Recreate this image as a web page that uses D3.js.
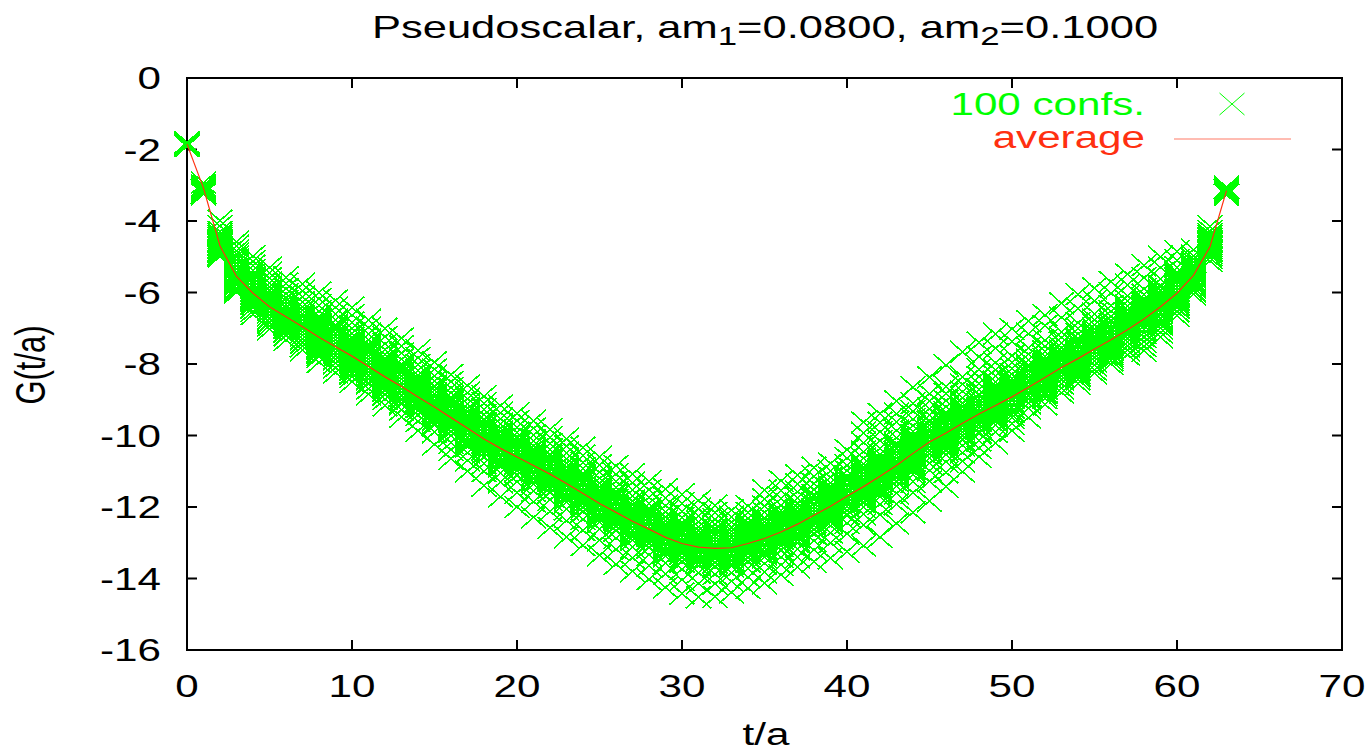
<!DOCTYPE html>
<html lang="en">
<head>
    <meta charset="UTF-8">
    <title>Pseudoscalar correlator</title>
    <script src="https://cdnjs.cloudflare.com/ajax/libs/d3/7.8.5/d3.min.js"></script>
    <style>
        body { margin: 0; background: #fff; }
        text { font-family: "Liberation Sans", Arial, sans-serif; }
    </style>
</head>
<body>
<svg width="1372" height="751"></svg>
<script>
    // tick labels
    const xTicks = [0, 10, 20, 30, 40, 50, 60, 70];
    const yTicks = [0, -2, -4, -6, -8, -10, -12, -14, -16];

    // average over configurations, one value per t/a = 0..63
    const average = [
        -1.85, -3.08, -4.70, -5.55, -6.02, -6.40, -6.68, -6.96, -7.25, -7.52,
        -7.78, -8.07, -8.36, -8.63, -8.92, -9.20, -9.50, -9.80, -10.10, -10.36,
        -10.60, -10.84, -11.08, -11.34, -11.62, -11.90, -12.15, -12.40, -12.62, -12.85,
        -13.02, -13.12, -13.16, -13.14, -13.02, -12.88, -12.70, -12.48, -12.23, -11.98,
        -11.70, -11.43, -11.14, -10.84, -10.50, -10.18, -9.93, -9.66, -9.40, -9.16,
        -8.92, -8.65, -8.38, -8.10, -7.85, -7.58, -7.32, -7.04, -6.74, -6.40,
        -6.02, -5.52, -4.72, -3.15
    ];

    // individual configurations (row index = t/a)
    const confs = [
        [-1.80,-1.82,-1.83,-1.84,-1.85,-1.86,-1.87,-1.88,-1.89,-1.91],
        [-2.93,-3.00,-3.03,-3.05,-3.07,-3.09,-3.11,-3.13,-3.15,-3.17,-3.19,-3.22,-3.25],
        [-3.99,-4.14,-4.30,-4.37,-4.42,-4.47,-4.52,-4.56,-4.60,-4.64,-4.68,-4.72,-4.76,-4.80,-4.84,-4.88,-4.92,-4.96,-4.99],
        [-4.58,-4.70,-4.83,-4.92,-5.00,-5.10,-5.18,-5.26,-5.34,-5.42,-5.50,-5.58,-5.66,-5.73,-5.80,-5.87,-5.94],
        [-4.98,-5.12,-5.25,-5.38,-5.48,-5.58,-5.67,-5.76,-5.85,-5.93,-6.01,-6.09,-6.17,-6.25,-6.33,-6.42,-6.52,-6.61],
        [-5.30,-5.45,-5.60,-5.73,-5.85,-5.95,-6.05,-6.14,-6.23,-6.31,-6.39,-6.47,-6.55,-6.63,-6.72,-6.82,-6.93,-7.03],
        [-5.58,-5.75,-5.90,-6.04,-6.15,-6.25,-6.34,-6.43,-6.51,-6.59,-6.67,-6.75,-6.83,-6.91,-7.00,-7.10,-7.20,-7.33],
        [-5.76,-5.95,-6.12,-6.27,-6.40,-6.50,-6.60,-6.69,-6.78,-6.87,-6.95,-7.03,-7.11,-7.20,-7.29,-7.39,-7.50,-7.61],
        [-6.00,-6.18,-6.36,-6.52,-6.66,-6.78,-6.88,-6.97,-7.06,-7.15,-7.24,-7.32,-7.40,-7.49,-7.58,-7.68,-7.80,-7.95],
        [-6.22,-6.42,-6.60,-6.77,-6.90,-7.02,-7.13,-7.23,-7.32,-7.41,-7.50,-7.59,-7.68,-7.77,-7.87,-7.98,-8.10,-8.24],
        [-6.42,-6.63,-6.84,-7.00,-7.14,-7.27,-7.38,-7.48,-7.58,-7.67,-7.76,-7.85,-7.94,-8.03,-8.13,-8.24,-8.36,-8.50],
        [-6.77,-6.98,-7.16,-7.32,-7.45,-7.57,-7.68,-7.78,-7.87,-7.96,-8.05,-8.14,-8.23,-8.33,-8.43,-8.55,-8.69,-8.85],
        [-7.01,-7.24,-7.44,-7.60,-7.74,-7.86,-7.97,-8.07,-8.16,-8.25,-8.34,-8.43,-8.52,-8.62,-8.72,-8.84,-8.98,-9.16],
        [-7.28,-7.50,-7.70,-7.87,-8.01,-8.13,-8.24,-8.34,-8.43,-8.52,-8.61,-8.70,-8.79,-8.89,-9.00,-9.12,-9.28,-9.48],
        [-7.62,-7.83,-8.02,-8.18,-8.31,-8.43,-8.54,-8.64,-8.73,-8.82,-8.91,-9.00,-9.09,-9.19,-9.30,-9.43,-9.60,-9.87],
        [-7.95,-8.15,-8.33,-8.48,-8.61,-8.73,-8.84,-8.93,-9.02,-9.11,-9.19,-9.28,-9.37,-9.47,-9.58,-9.71,-9.90,-10.25],
        [-8.30,-8.50,-8.67,-8.81,-8.93,-9.04,-9.14,-9.24,-9.33,-9.42,-9.50,-9.58,-9.67,-9.77,-9.88,-10.01,-10.20,-10.40,-10.65],
        [-8.60,-8.80,-8.97,-9.12,-9.24,-9.35,-9.45,-9.54,-9.63,-9.72,-9.80,-9.88,-9.97,-10.07,-10.18,-10.31,-10.48,-10.70,-11.00],
        [-8.90,-9.10,-9.27,-9.42,-9.54,-9.65,-9.75,-9.84,-9.93,-10.02,-10.10,-10.18,-10.27,-10.37,-10.48,-10.61,-10.78,-11.00,-11.40],
        [-9.16,-9.36,-9.53,-9.68,-9.80,-9.91,-10.01,-10.10,-10.19,-10.28,-10.36,-10.44,-10.53,-10.63,-10.74,-10.87,-11.05,-11.30,-11.71],
        [-9.38,-9.59,-9.77,-9.92,-10.04,-10.15,-10.25,-10.34,-10.43,-10.52,-10.60,-10.68,-10.77,-10.87,-10.98,-11.12,-11.30,-11.60,-12.00],
        [-9.59,-9.80,-9.99,-10.15,-10.28,-10.39,-10.49,-10.58,-10.67,-10.76,-10.84,-10.92,-11.01,-11.11,-11.22,-11.36,-11.55,-11.85,-12.29],
        [-9.83,-10.05,-10.23,-10.39,-10.52,-10.63,-10.73,-10.82,-10.91,-11.00,-11.08,-11.16,-11.25,-11.35,-11.46,-11.60,-11.80,-12.12,-12.58],
        [-10.09,-10.30,-10.49,-10.65,-10.78,-10.89,-10.99,-11.08,-11.17,-11.26,-11.34,-11.42,-11.51,-11.61,-11.72,-11.86,-12.06,-12.38,-12.84],
        [-10.34,-10.56,-10.76,-10.92,-11.05,-11.17,-11.27,-11.36,-11.45,-11.54,-11.62,-11.70,-11.79,-11.89,-12.00,-12.14,-12.34,-12.65,-13.07],
        [-10.60,-10.83,-11.03,-11.20,-11.33,-11.45,-11.55,-11.64,-11.73,-11.82,-11.90,-11.98,-12.07,-12.17,-12.28,-12.42,-12.62,-12.93,-13.35],
        [-10.85,-11.08,-11.28,-11.45,-11.58,-11.70,-11.80,-11.89,-11.98,-12.07,-12.15,-12.23,-12.32,-12.42,-12.53,-12.67,-12.87,-13.18,-13.60],
        [-11.08,-11.32,-11.52,-11.69,-11.83,-11.95,-12.05,-12.14,-12.23,-12.32,-12.40,-12.48,-12.57,-12.67,-12.78,-12.92,-13.12,-13.42,-13.80],
        [-11.28,-11.52,-11.73,-11.90,-12.04,-12.16,-12.27,-12.36,-12.45,-12.54,-12.62,-12.70,-12.79,-12.89,-13.00,-13.14,-13.34,-13.64,-14.02],
        [-11.50,-11.75,-11.96,-12.13,-12.27,-12.39,-12.50,-12.59,-12.68,-12.77,-12.85,-12.93,-13.02,-13.12,-13.23,-13.37,-13.57,-13.87,-14.25],
        [-11.65,-11.90,-12.12,-12.30,-12.44,-12.56,-12.67,-12.76,-12.85,-12.94,-13.02,-13.10,-13.19,-13.29,-13.40,-13.54,-13.74,-14.04,-14.42],
        [-11.82,-12.05,-12.25,-12.41,-12.55,-12.67,-12.77,-12.86,-12.95,-13.04,-13.12,-13.20,-13.29,-13.39,-13.50,-13.64,-13.84,-14.14,-14.52],
        [-11.96,-12.16,-12.34,-12.48,-12.61,-12.72,-12.82,-12.91,-13.00,-13.08,-13.16,-13.24,-13.33,-13.43,-13.54,-13.68,-13.88,-14.15,-14.51],
        [-12.09,-12.28,-12.43,-12.56,-12.67,-12.77,-12.87,-12.96,-13.05,-13.14,-13.22,-13.31,-13.41,-13.52,-13.66,-13.84,-14.08,-14.39],
        [-11.97,-12.16,-12.31,-12.44,-12.55,-12.65,-12.75,-12.84,-12.93,-13.02,-13.10,-13.19,-13.29,-13.40,-13.54,-13.72,-13.96,-14.27],
        [-11.53,-11.78,-11.98,-12.15,-12.30,-12.42,-12.52,-12.61,-12.70,-12.79,-12.88,-12.96,-13.05,-13.15,-13.26,-13.40,-13.58,-13.82,-14.13],
        [-11.27,-11.54,-11.76,-11.95,-12.10,-12.23,-12.34,-12.43,-12.52,-12.61,-12.70,-12.78,-12.87,-12.97,-13.08,-13.22,-13.40,-13.62,-13.90],
        [-11.11,-11.36,-11.57,-11.75,-11.90,-12.02,-12.13,-12.22,-12.31,-12.40,-12.48,-12.56,-12.65,-12.75,-12.86,-13.00,-13.18,-13.40,-13.68],
        [-10.90,-11.14,-11.35,-11.52,-11.66,-11.78,-11.89,-11.98,-12.07,-12.16,-12.24,-12.32,-12.41,-12.51,-12.62,-12.76,-12.95,-13.20,-13.53],
        [-10.78,-10.99,-11.17,-11.32,-11.45,-11.56,-11.66,-11.75,-11.84,-11.92,-12.00,-12.08,-12.17,-12.27,-12.38,-12.52,-12.72,-13.00,-13.43],
        [-10.40,-10.63,-10.83,-10.99,-11.13,-11.25,-11.36,-11.46,-11.55,-11.63,-11.71,-11.79,-11.88,-11.98,-12.09,-12.24,-12.45,-12.75,-13.25],
        [-9.63,-9.93,-10.20,-10.45,-10.64,-10.80,-10.93,-11.04,-11.13,-11.22,-11.30,-11.38,-11.46,-11.54,-11.63,-11.73,-11.85,-12.00,-12.20,-12.50,-13.08],
        [-9.39,-9.64,-9.90,-10.15,-10.36,-10.52,-10.65,-10.76,-10.85,-10.94,-11.02,-11.10,-11.18,-11.26,-11.35,-11.45,-11.57,-11.72,-11.92,-12.22,-12.84],
        [-9.04,-9.39,-9.62,-9.86,-10.06,-10.22,-10.35,-10.46,-10.55,-10.64,-10.72,-10.80,-10.88,-10.96,-11.05,-11.15,-11.27,-11.42,-11.62,-11.92,-12.46],
        [-8.65,-9.10,-9.32,-9.54,-9.73,-9.89,-10.02,-10.13,-10.22,-10.31,-10.39,-10.47,-10.55,-10.63,-10.72,-10.82,-10.94,-11.09,-11.29,-11.60,-12.15],
        [-8.37,-8.83,-9.04,-9.25,-9.43,-9.58,-9.71,-9.82,-9.91,-10.00,-10.08,-10.16,-10.24,-10.32,-10.41,-10.51,-10.63,-10.78,-10.98,-11.28,-11.83],
        [-8.03,-8.63,-8.83,-9.03,-9.20,-9.35,-9.47,-9.58,-9.67,-9.76,-9.84,-9.92,-10.00,-10.08,-10.17,-10.27,-10.39,-10.54,-10.74,-11.03,-11.43],
        [-7.66,-8.36,-8.57,-8.77,-8.94,-9.09,-9.21,-9.32,-9.41,-9.50,-9.58,-9.66,-9.74,-9.82,-9.91,-10.01,-10.13,-10.28,-10.48,-10.72,-11.01],
        [-7.40,-7.80,-8.15,-8.36,-8.55,-8.71,-8.85,-8.97,-9.07,-9.16,-9.24,-9.32,-9.40,-9.48,-9.57,-9.67,-9.79,-9.94,-10.14,-10.35,-10.60],
        [-7.16,-7.56,-7.96,-8.16,-8.34,-8.50,-8.63,-8.74,-8.84,-8.93,-9.01,-9.09,-9.17,-9.25,-9.34,-9.44,-9.56,-9.71,-9.90,-10.21],
        [-7.02,-7.37,-7.77,-7.96,-8.13,-8.28,-8.41,-8.52,-8.62,-8.71,-8.79,-8.87,-8.95,-9.03,-9.12,-9.22,-9.34,-9.50,-9.67,-9.87],
        [-6.80,-7.15,-7.55,-7.73,-7.89,-8.03,-8.16,-8.27,-8.37,-8.46,-8.54,-8.62,-8.70,-8.78,-8.87,-8.97,-9.09,-9.24,-9.50],
        [-6.63,-6.93,-7.33,-7.50,-7.65,-7.79,-7.91,-8.01,-8.10,-8.19,-8.27,-8.35,-8.43,-8.51,-8.60,-8.70,-8.82,-8.96,-9.13],
        [-6.30,-6.70,-7.10,-7.26,-7.41,-7.54,-7.65,-7.75,-7.84,-7.92,-8.00,-8.08,-8.16,-8.24,-8.33,-8.43,-8.55,-8.68,-8.80],
        [-6.05,-6.45,-6.85,-7.01,-7.16,-7.29,-7.40,-7.50,-7.59,-7.67,-7.75,-7.83,-7.91,-7.99,-8.08,-8.18,-8.30,-8.43,-8.55],
        [-5.88,-6.23,-6.60,-6.76,-6.90,-7.03,-7.14,-7.24,-7.33,-7.41,-7.49,-7.57,-7.65,-7.73,-7.82,-7.92,-8.04,-8.16,-8.26],
        [-5.70,-6.02,-6.37,-6.52,-6.66,-6.78,-6.89,-6.99,-7.08,-7.16,-7.24,-7.32,-7.40,-7.48,-7.57,-7.67,-7.78,-7.90,-8.00],
        [-5.49,-5.79,-6.09,-6.24,-6.38,-6.50,-6.61,-6.71,-6.80,-6.88,-6.96,-7.04,-7.12,-7.20,-7.29,-7.39,-7.50,-7.62,-7.74],
        [-5.24,-5.59,-5.90,-6.06,-6.18,-6.28,-6.37,-6.46,-6.54,-6.62,-6.70,-6.78,-6.86,-6.94,-7.03,-7.13,-7.25,-7.38,-7.50,-7.63],
        [-5.00,-5.30,-5.62,-5.80,-5.96,-6.06,-6.15,-6.24,-6.32,-6.40,-6.48,-6.56,-6.64,-6.72,-6.81,-6.90,-7.00,-7.12,-7.25],
        [-4.85,-5.10,-5.30,-5.44,-5.53,-5.62,-5.70,-5.78,-5.86,-5.94,-6.02,-6.10,-6.18,-6.26,-6.34,-6.43,-6.53,-6.65],
        [-4.80,-4.98,-5.07,-5.15,-5.23,-5.30,-5.37,-5.44,-5.51,-5.58,-5.65,-5.72,-5.79,-5.86,-5.94,-6.05],
        [-4.15,-4.28,-4.37,-4.43,-4.49,-4.55,-4.60,-4.65,-4.70,-4.75,-4.80,-4.85,-4.90,-4.96,-5.03,-5.12],
        [-3.05,-3.08,-3.11,-3.13,-3.15,-3.17,-3.19,-3.21,-3.24,-3.27]
    ];

    // further configurations packed in the solid core near the average (row index = t/a)
    const confsCore = [
        [], [], [],
        [-4.99,-5.08,-5.18,-5.26,-5.35,-5.44,-5.52,-5.61,-5.70,-5.79,-5.89,-6.00],
        [-5.50,-5.59,-5.68,-5.77,-5.86,-5.95,-6.04,-6.13,-6.22,-6.31,-6.41,-6.52],
        [-5.84,-5.93,-6.03,-6.11,-6.20,-6.29,-6.37,-6.46,-6.55,-6.64,-6.74,-6.85],
        [-6.16,-6.25,-6.34,-6.43,-6.52,-6.61,-6.70,-6.79,-6.88,-6.97,-7.07,-7.18],
        [-6.40,-6.49,-6.59,-6.67,-6.76,-6.85,-6.93,-7.02,-7.11,-7.20,-7.30,-7.41],
        [-6.73,-6.82,-6.91,-7.00,-7.09,-7.18,-7.27,-7.36,-7.45,-7.54,-7.64,-7.75],
        [-6.96,-7.05,-7.15,-7.23,-7.32,-7.41,-7.49,-7.58,-7.67,-7.76,-7.86,-7.97],
        [-7.26,-7.35,-7.44,-7.53,-7.62,-7.71,-7.80,-7.89,-7.98,-8.07,-8.17,-8.28],
        [-7.51,-7.60,-7.70,-7.78,-7.87,-7.96,-8.04,-8.13,-8.22,-8.31,-8.41,-8.52],
        [-7.84,-7.93,-8.02,-8.11,-8.20,-8.29,-8.38,-8.47,-8.56,-8.65,-8.75,-8.86],
        [-8.07,-8.16,-8.26,-8.34,-8.43,-8.52,-8.60,-8.69,-8.78,-8.87,-8.97,-9.08],
        [-8.40,-8.49,-8.58,-8.67,-8.76,-8.85,-8.94,-9.03,-9.12,-9.21,-9.31,-9.42],
        [-8.64,-8.73,-8.83,-8.91,-9.00,-9.09,-9.17,-9.26,-9.35,-9.44,-9.54,-9.65],
        [-8.98,-9.07,-9.16,-9.25,-9.34,-9.43,-9.52,-9.61,-9.70,-9.79,-9.89,-10.00],
        [-9.24,-9.33,-9.43,-9.51,-9.60,-9.69,-9.77,-9.86,-9.95,-10.04,-10.14,-10.25],
        [-9.58,-9.67,-9.76,-9.85,-9.94,-10.03,-10.12,-10.21,-10.30,-10.39,-10.49,-10.60],
        [-9.80,-9.89,-9.99,-10.07,-10.16,-10.25,-10.33,-10.42,-10.51,-10.60,-10.70,-10.81],
        [-10.08,-10.17,-10.26,-10.35,-10.44,-10.53,-10.62,-10.71,-10.80,-10.89,-10.99,-11.10],
        [-10.28,-10.37,-10.47,-10.55,-10.64,-10.73,-10.81,-10.90,-10.99,-11.08,-11.18,-11.29],
        [-10.56,-10.65,-10.74,-10.83,-10.92,-11.01,-11.10,-11.19,-11.28,-11.37,-11.47,-11.58],
        [-10.78,-10.87,-10.97,-11.05,-11.14,-11.23,-11.31,-11.40,-11.49,-11.58,-11.68,-11.79],
        [-11.10,-11.19,-11.28,-11.37,-11.46,-11.55,-11.64,-11.73,-11.82,-11.91,-12.01,-12.12],
        [-11.34,-11.43,-11.53,-11.61,-11.70,-11.79,-11.87,-11.96,-12.05,-12.14,-12.24,-12.35],
        [-11.63,-11.72,-11.81,-11.90,-11.99,-12.08,-12.17,-12.26,-12.35,-12.44,-12.54,-12.65],
        [-11.84,-11.93,-12.03,-12.11,-12.20,-12.29,-12.37,-12.46,-12.55,-12.64,-12.74,-12.85],
        [-12.10,-12.19,-12.28,-12.37,-12.46,-12.55,-12.64,-12.73,-12.82,-12.91,-13.01,-13.12],
        [-12.29,-12.38,-12.48,-12.56,-12.65,-12.74,-12.82,-12.91,-13.00,-13.09,-13.19,-13.30],
        [-12.50,-12.59,-12.68,-12.77,-12.86,-12.95,-13.04,-13.13,-13.22,-13.31,-13.41,-13.52],
        [-12.56,-12.65,-12.75,-12.83,-12.92,-13.01,-13.09,-13.18,-13.27,-13.36,-13.46,-13.57],
        [-12.64,-12.73,-12.82,-12.91,-13.00,-13.09,-13.18,-13.27,-13.36,-13.45,-13.55,-13.66],
        [-12.58,-12.67,-12.77,-12.85,-12.94,-13.03,-13.11,-13.20,-13.29,-13.38,-13.48,-13.59],
        [-12.50,-12.59,-12.68,-12.77,-12.86,-12.95,-13.04,-13.13,-13.22,-13.31,-13.41,-13.52],
        [-12.32,-12.41,-12.51,-12.59,-12.68,-12.77,-12.85,-12.94,-13.03,-13.12,-13.22,-13.33],
        [-12.18,-12.27,-12.36,-12.45,-12.54,-12.63,-12.72,-12.81,-12.90,-12.99,-13.09,-13.20],
        [-11.92,-12.01,-12.11,-12.19,-12.28,-12.37,-12.45,-12.54,-12.63,-12.72,-12.82,-12.93],
        [-11.71,-11.80,-11.89,-11.98,-12.07,-12.16,-12.25,-12.34,-12.43,-12.52,-12.62,-12.73],
        [-11.42,-11.51,-11.61,-11.69,-11.78,-11.87,-11.95,-12.04,-12.13,-12.22,-12.32,-12.43],
        [-11.18,-11.27,-11.36,-11.45,-11.54,-11.63,-11.72,-11.81,-11.90,-11.99,-12.09,-12.20],
        [-10.87,-10.96,-11.06,-11.14,-11.23,-11.32,-11.40,-11.49,-11.58,-11.67,-11.77,-11.88],
        [-10.62,-10.71,-10.80,-10.89,-10.98,-11.07,-11.16,-11.25,-11.34,-11.43,-11.53,-11.64],
        [-10.28,-10.37,-10.47,-10.55,-10.64,-10.73,-10.81,-10.90,-10.99,-11.08,-11.18,-11.29],
        [-9.98,-10.07,-10.16,-10.25,-10.34,-10.43,-10.52,-10.61,-10.70,-10.79,-10.89,-11.00],
        [-9.62,-9.71,-9.81,-9.89,-9.98,-10.07,-10.15,-10.24,-10.33,-10.42,-10.52,-10.63],
        [-9.41,-9.50,-9.59,-9.68,-9.77,-9.86,-9.95,-10.04,-10.13,-10.22,-10.32,-10.43],
        [-9.10,-9.19,-9.29,-9.37,-9.46,-9.55,-9.63,-9.72,-9.81,-9.90,-10.00,-10.11],
        [-8.88,-8.97,-9.06,-9.15,-9.24,-9.33,-9.42,-9.51,-9.60,-9.69,-9.79,-9.90],
        [-8.60,-8.69,-8.79,-8.87,-8.96,-9.05,-9.13,-9.22,-9.31,-9.40,-9.50,-9.61],
        [-8.40,-8.49,-8.58,-8.67,-8.76,-8.85,-8.94,-9.03,-9.12,-9.21,-9.31,-9.42],
        [-8.09,-8.18,-8.28,-8.36,-8.45,-8.54,-8.62,-8.71,-8.80,-8.89,-8.99,-9.10],
        [-7.86,-7.95,-8.04,-8.13,-8.22,-8.31,-8.40,-8.49,-8.58,-8.67,-8.77,-8.88],
        [-7.54,-7.63,-7.73,-7.81,-7.90,-7.99,-8.07,-8.16,-8.25,-8.34,-8.44,-8.55],
        [-7.33,-7.42,-7.51,-7.60,-7.69,-7.78,-7.87,-7.96,-8.05,-8.14,-8.24,-8.35],
        [-7.02,-7.11,-7.21,-7.29,-7.38,-7.47,-7.55,-7.64,-7.73,-7.82,-7.92,-8.03],
        [-6.80,-6.89,-6.98,-7.07,-7.16,-7.25,-7.34,-7.43,-7.52,-7.61,-7.71,-7.82],
        [-6.48,-6.57,-6.67,-6.75,-6.84,-6.93,-7.01,-7.10,-7.19,-7.28,-7.38,-7.49],
        [-6.22,-6.31,-6.40,-6.49,-6.58,-6.67,-6.76,-6.85,-6.94,-7.03,-7.13,-7.24],
        [-5.84,-5.93,-6.03,-6.11,-6.20,-6.29,-6.37,-6.46,-6.55,-6.64,-6.74,-6.85],
        [-5.50,-5.59,-5.68,-5.77,-5.86,-5.95,-6.04,-6.13,-6.22,-6.31,-6.41,-6.52],
        [-5.06,-5.15,-5.24,-5.32,-5.41,-5.49,-5.58,-5.67,-5.76,-5.86,-5.97],
        [], []
    ];

    const GREEN = '#00ff00';
    const RED = '#ff3010';
    const FONT = 31;
    const STRETCH = 1.36;   // the original image is wider than its glyphs

    const svg = d3.select('svg');
    const plotLeft = 187, plotRight = 1342, plotTop = 78, plotBottom = 650;

    const x = d3.scaleLinear().domain([0, 70]).range([plotLeft, plotRight]);
    const y = d3.scaleLinear().domain([-16, 0]).range([plotBottom, plotTop]);

    // stretched text helper
    const label = (px, py, str, anchor, color, rot, size) => {
        return svg.append('text')
            .attr('transform', `translate(${px},${py}) scale(${STRETCH},1)` + (rot ? ` rotate(${rot})` : ''))
            .attr('text-anchor', anchor)
            .attr('font-size', (size || FONT) + 'px')
            .attr('fill', color || '#000')
            .text(str);
    };

    // frame
    svg.append('rect')
        .attr('x', plotLeft).attr('y', plotTop)
        .attr('width', plotRight - plotLeft).attr('height', plotBottom - plotTop)
        .attr('fill', 'none').attr('stroke', '#000').attr('stroke-width', 2);

    // ticks, mirrored on all sides
    const TL = 10;
    xTicks.forEach(v => {
        svg.append('path').attr('d', `M${x(v)},${plotBottom} V${plotBottom - TL} M${x(v)},${plotTop} V${plotTop + TL}`)
            .attr('stroke', '#000').attr('stroke-width', 2);
        label(x(v), 697, v, 'middle');
    });
    yTicks.forEach(v => {
        svg.append('path').attr('d', `M${plotLeft},${y(v)} H${plotLeft + TL} M${plotRight},${y(v)} H${plotRight - TL}`)
            .attr('stroke', '#000').attr('stroke-width', 2);
        label(161, y(v) + 11, v, 'end');
    });

    // axis titles
    label(766, 745, 't/a', 'middle');
    label(45, 365, 'G(t/a)', 'middle', '#000', -90);

    // title with subscripts
    const TS = 32;
    const title = label(765, 38, '', 'middle', '#000', 0, TS);
    title.append('tspan').text('Pseudoscalar, am');
    title.append('tspan').attr('dy', 7).attr('font-size', (TS * 0.8) + 'px').text('1');
    title.append('tspan').attr('dy', -7).text('=0.0800, am');
    title.append('tspan').attr('dy', 7).attr('font-size', (TS * 0.8) + 'px').text('2');
    title.append('tspan').attr('dy', -7).text('=0.1000');

    // cross marker like gnuplot point type 2
    const HX = 12.5, HY = 11;
    const cross = `M${-HX},${-HY} L${HX},${HY} M${-HX},${HY} L${HX},${-HY}`;

    const points = [];
    confs.forEach((row, t) => row.forEach(v => points.push({t: t, v: v})));
    confsCore.forEach((row, t) => row.forEach(v => points.push({t: t, v: v})));

    svg.append('g').selectAll('path')
        .data(points)
        .join('path')
        .attr('transform', d => `translate(${x(d.t)},${y(d.v)})`)
        .attr('d', cross)
        .attr('fill', 'none')
        .attr('stroke', GREEN)
        .attr('stroke-width', 1.6)
        .attr('shape-rendering', 'crispEdges');

    // average line
    const line = d3.line().x((d, i) => x(i)).y(d => y(d));
    svg.append('path')
        .datum(average)
        .attr('d', line)
        .attr('fill', 'none')
        .attr('stroke', RED)
        .attr('stroke-width', 1.2);

    // legend
    label(1145, 115, '100 confs.', 'end', GREEN);
    svg.append('path')
        .attr('transform', 'translate(1232,104)')
        .attr('d', cross)
        .attr('fill', 'none').attr('stroke', GREEN).attr('stroke-width', 1);
    label(1145, 148, 'average', 'end', RED);
    svg.append('line')
        .attr('x1', 1174).attr('x2', 1291).attr('y1', 139).attr('y2', 139)
        .attr('stroke', '#ff7a66').attr('stroke-width', 1.2);
</script>
</body>
</html>
